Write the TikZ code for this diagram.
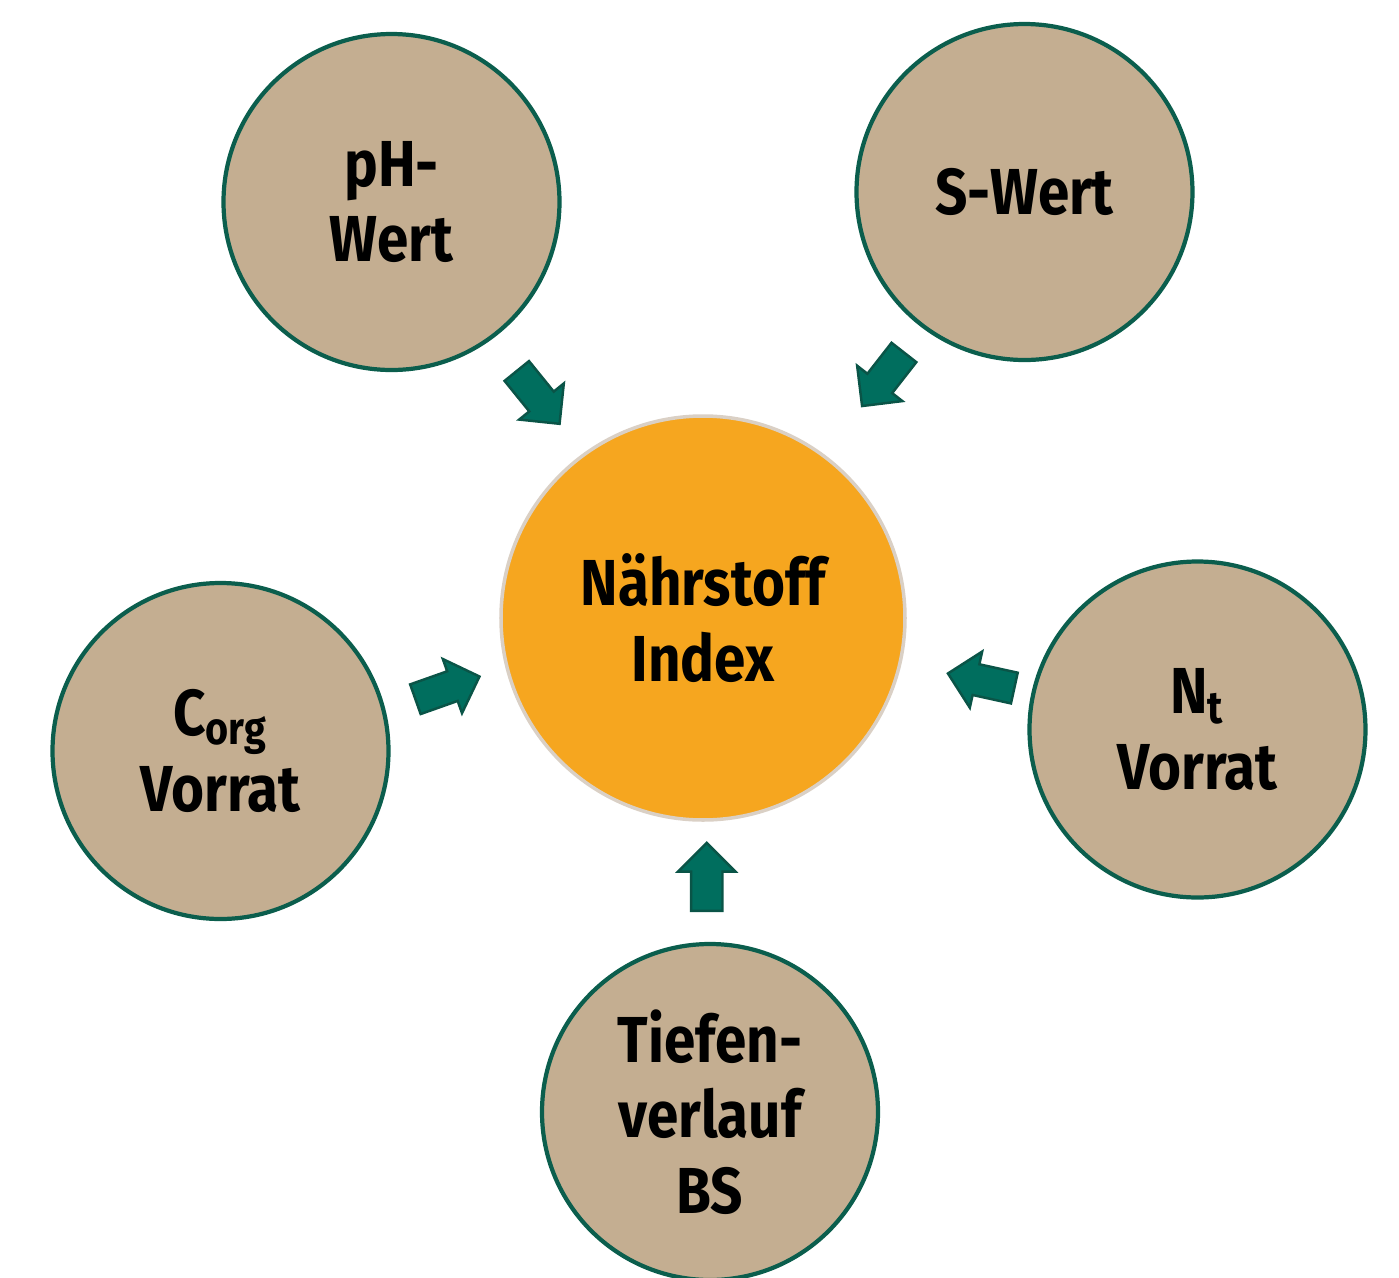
\documentclass[tikz,border=0pt]{standalone}
\usepackage{fontspec}
\setmainfont[FakeStretch=0.87]{Fira Sans}
\usetikzlibrary{shapes.arrows,calc}
\definecolor{sandfill}{HTML}{C4AE91}
\definecolor{sandrim}{HTML}{0B5E4D}
\definecolor{indexfill}{HTML}{F6A61F}
\definecolor{indexrim}{HTML}{DAD0C5}
\definecolor{pushfill}{HTML}{006E5E}
\definecolor{pushrim}{HTML}{0A5447}

\begin{document}
\begin{tikzpicture}[
  factor/.style={circle, draw=sandrim, line width=1.2pt, fill=sandfill, minimum size=3.36cm, inner sep=0pt, align=center, font=\bfseries\fontsize{18.5}{21.5}\selectfont},
  push/.style={single arrow, draw=pushrim, fill=pushfill, line width=0.7pt, inner xsep=0pt, inner ysep=0.145cm, minimum height=0.68cm, single arrow head extend=0.13cm, single arrow tip angle=90}
]
\useasboundingbox (0,0) rectangle (13.99,-12.78);

\node[circle, draw=indexrim, line width=1pt, fill=indexfill, minimum size=4.04cm, inner sep=0pt, align=center, font=\bfseries\fontsize{18.5}{21.5}\selectfont] (idx) at (7.03,-6.18) {Nährstoff\\Index};

\node[factor] (ph) at (3.915,-2.02) {pH-\\Wert};
\node[factor] (sw) at (10.245,-1.92) {S-Wert};
\node[factor] (corg) at (2.205,-7.51) {C\textsubscript{org}\\Vorrat};
\node[factor] (nt) at (11.975,-7.295) {N\textsubscript{t}\\Vorrat};
\node[factor] (tb) at (7.10,-11.12) {Tiefen-\\verlauf\\BS};

\node[push, rotate=-51] (p1) at ($(ph)!0.455!(idx)$) {};
\node[push, rotate=-128] (p2) at ($(sw)!0.425!(idx)$) {};
\node[push, rotate=19.5] (p3) at ($(corg)!0.455!(idx)$) {};
\node[push, rotate=167.6] (p4) at ($(nt)!0.422!(idx)$) {};
\node[push, rotate=90] (p5) at ($(tb)!0.46!(idx)$) {};
\end{tikzpicture}
\end{document}
